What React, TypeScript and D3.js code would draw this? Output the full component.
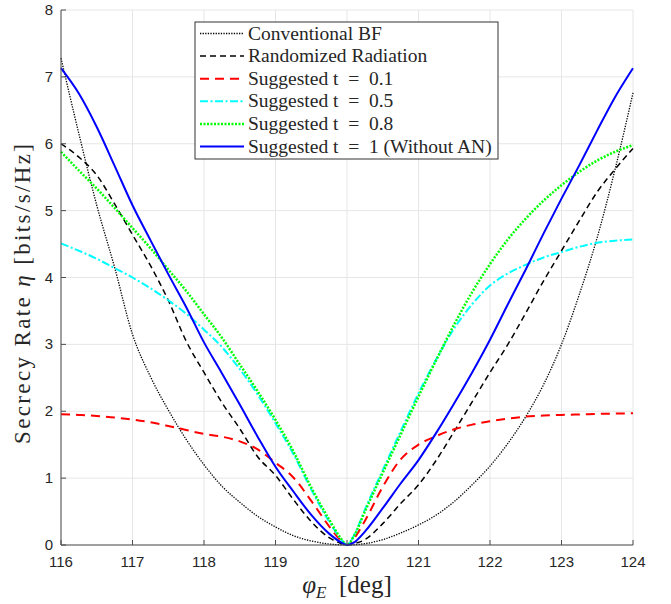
import React from "react";
import * as d3 from "d3";

const X = [116, 116.25, 116.5, 116.75, 117, 117.25, 117.5, 117.75, 118, 118.25, 118.5, 118.75, 119, 119.25, 119.5, 119.75, 119.9, 120, 120.1, 120.25, 120.5, 120.75, 121, 121.25, 121.5, 121.75, 122, 122.25, 122.5, 122.75, 123, 123.25, 123.5, 123.75, 124];

const conventionalBF = [7.28, 6.15, 5.08, 4.15, 3.15, 2.52, 2.02, 1.58, 1.2, 0.88, 0.64, 0.43, 0.27, 0.14, 0.06, 0.015, 0.003, 0, 0.003, 0.02, 0.08, 0.18, 0.3, 0.45, 0.65, 0.9, 1.18, 1.52, 1.92, 2.4, 3.0, 3.75, 4.6, 5.62, 6.76];
const randomized = [6.0, 5.8, 5.53, 5.1, 4.64, 4.18, 3.66, 3.05, 2.58, 2.13, 1.74, 1.32, 1.04, 0.68, 0.35, 0.11, 0.03, 0, 0.02, 0.08, 0.32, 0.62, 0.9, 1.27, 1.7, 2.14, 2.58, 3.0, 3.47, 3.95, 4.4, 4.85, 5.28, 5.62, 5.93];
const t01 = [1.957, 1.945, 1.93, 1.905, 1.877, 1.835, 1.78, 1.72, 1.66, 1.62, 1.55, 1.43, 1.23, 1.01, 0.66, 0.28, 0.08, 0, 0.1, 0.36, 0.87, 1.28, 1.5, 1.63, 1.73, 1.8, 1.85, 1.89, 1.92, 1.935, 1.945, 1.952, 1.96, 1.965, 1.97];
const t05 = [4.51, 4.4, 4.28, 4.14, 4.0, 3.84, 3.66, 3.46, 3.22, 2.96, 2.63, 2.25, 1.82, 1.36, 0.83, 0.35, 0.11, 0, 0.15, 0.53, 1.12, 1.7, 2.27, 2.78, 3.24, 3.6, 3.88, 4.06, 4.19, 4.3, 4.38, 4.46, 4.52, 4.55, 4.57];
const t08 = [5.88, 5.6, 5.33, 5.04, 4.74, 4.44, 4.12, 3.8, 3.45, 3.1, 2.7, 2.3, 1.87, 1.4, 0.86, 0.38, 0.12, 0, 0.14, 0.5, 1.08, 1.65, 2.22, 2.77, 3.3, 3.78, 4.2, 4.57, 4.88, 5.15, 5.38, 5.58, 5.75, 5.88, 5.98];
const t1 = [7.13, 6.75, 6.25, 5.67, 5.08, 4.56, 4.05, 3.56, 3.03, 2.57, 2.1, 1.62, 1.17, 0.8, 0.45, 0.17, 0.05, 0, 0.04, 0.2, 0.55, 0.92, 1.27, 1.68, 2.12, 2.58, 3.07, 3.6, 4.12, 4.66, 5.18, 5.68, 6.2, 6.7, 7.13];

const xTicks = [116, 117, 118, 119, 120, 121, 122, 123, 124];
const yTicks = [0, 1, 2, 3, 4, 5, 6, 7, 8];

const seriesNames = [
  "Conventional BF",
  "Randomized Radiation",
  "Suggested t = 0.1",
  "Suggested t = 0.5",
  "Suggested t = 0.8",
  "Suggested t = 1 (Without AN)",
];
const seriesValues = [conventionalBF, randomized, t01, t05, t08, t1];
const seriesColors = ["#000000", "#000000", "#ff0000", "#00ffff", "#00ff00", "#0000ff"];
const seriesDash = ["1.3,1.3", "6,4", "9,6", "8,2.5,2,2.5", "2,1.5", ""];
const seriesWidth = [1.3, 1.5, 2, 2, 2.5, 2];

export default function App() {
  const W = 671, H = 604;
  const left = 61, right = 633, top = 10, bottom = 545;
  const x = d3.scaleLinear().domain([116, 124]).range([left, right]);
  const y = d3.scaleLinear().domain([0, 8]).range([bottom, top]);
  const line = d3
    .line<[number, number]>()
    .x((d) => x(d[0]))
    .y((d) => y(d[1]))
    .curve(d3.curveMonotoneX);

  const axisColor = "#4d4d4d";
  const gridColor = "#e6e6e6";
  const tickStyle = { fontFamily: '"Liberation Sans", Arial, sans-serif' };
  const serifStyle = { fontFamily: '"Liberation Serif", "Times New Roman", serif' };

  const legX = 195, legY = 22, legW = 303, legH = 137;
  const rowH = 22.6;

  return (
    <svg width={W} height={H} style={{ position: "absolute", left: 0, top: 0, background: "#fff" }}>
      <rect x={0} y={0} width={W} height={H} fill="#fff" />
      {xTicks.map((t) => (
        <line key={"gx" + t} x1={x(t)} x2={x(t)} y1={top} y2={bottom} stroke={gridColor} strokeWidth={1} />
      ))}
      {yTicks.map((t) => (
        <line key={"gy" + t} x1={left} x2={right} y1={y(t)} y2={y(t)} stroke={gridColor} strokeWidth={1} />
      ))}
      {seriesValues.map((vals, i) => (
        <path
          key={"s" + i}
          d={line(X.map((xv, j) => [xv, vals[j]] as [number, number])) || ""}
          fill="none"
          stroke={seriesColors[i]}
          strokeWidth={seriesWidth[i]}
          strokeDasharray={seriesDash[i] || undefined}
        />
      ))}
      <line x1={left} x2={left} y1={top} y2={bottom} stroke={axisColor} strokeWidth={1} />
      <line x1={left} x2={right} y1={bottom} y2={bottom} stroke={axisColor} strokeWidth={1} />
      {xTicks.map((t) => (
        <g key={"xt" + t}>
          <line x1={x(t)} x2={x(t)} y1={bottom} y2={bottom - 5} stroke={axisColor} />
          <text x={x(t)} y={bottom + 22} textAnchor="middle" style={tickStyle} fontSize={15} fill="#262626">
            {t}
          </text>
        </g>
      ))}
      {yTicks.map((t) => (
        <g key={"yt" + t}>
          <line x1={left} x2={left + 5} y1={y(t)} y2={y(t)} stroke={axisColor} />
          <text x={left - 8} y={y(t) + 5} textAnchor="end" style={tickStyle} fontSize={15} fill="#262626">
            {t}
          </text>
        </g>
      ))}
      <text x={347} y={593} textAnchor="middle" style={serifStyle} fontSize={25} fill="#262626">
        <tspan fontStyle="italic">φ</tspan>
        <tspan fontStyle="italic" fontSize={17} dy={5}>E</tspan>
        <tspan dy={-5}>{"\u2002[deg]"}</tspan>
      </text>
      <text
        transform={`translate(30, 294) rotate(-90)`}
        textAnchor="middle"
        style={serifStyle}
        fontSize={23}
        fill="#262626"
        textLength={300}
        lengthAdjust="spacing"
      >
        Secrecy Rate <tspan fontStyle="italic">η</tspan> [bits/s/Hz]
      </text>
      <rect x={legX} y={legY} width={legW} height={legH} fill="#fff" stroke="#333" strokeWidth={1} />
      {seriesNames.map((name, i) => {
        const cy = legY + 11.5 + i * rowH;
        return (
          <g key={"l" + i}>
            <line
              x1={legX + 5}
              x2={legX + 49}
              y1={cy}
              y2={cy}
              stroke={seriesColors[i]}
              strokeWidth={seriesWidth[i]}
              strokeDasharray={seriesDash[i] || undefined}
            />
            <text x={legX + 53} y={cy + 6} style={serifStyle} fontSize={19.5} fill="#262626">
              {name.replace(" = ", "\u2002=\u2002")}
            </text>
          </g>
        );
      })}
    </svg>
  );
}
